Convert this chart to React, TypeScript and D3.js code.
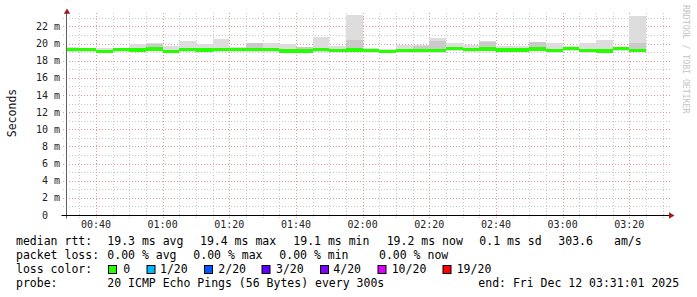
import React from 'react';
import * as d3 from 'd3';

// ---- data ----
const stepEnds = [
  "00:35", "00:40", "00:45", "00:50", "00:55", "01:00", "01:05", "01:10", "01:15", "01:20",
  "01:25", "01:30", "01:35", "01:40", "01:45", "01:50", "01:55", "02:00", "02:05", "02:10",
  "02:15", "02:20", "02:25", "02:30", "02:35", "02:40", "02:45", "02:50", "02:55", "03:00",
  "03:05", "03:10", "03:15", "03:20", "03:25",
];
const medianMs = [
  19.3, 19.3, 19.1, 19.3, 19.25, 19.35, 19.1, 19.3, 19.25, 19.3,
  19.3, 19.3, 19.3, 19.15, 19.15, 19.3, 19.2, 19.25, 19.2, 19.1,
  19.2, 19.2, 19.2, 19.4, 19.3, 19.35, 19.22, 19.22, 19.35, 19.2,
  19.42, 19.2, 19.15, 19.42, 19.2,
];
const smokeMaxMs = [
  19.6, 19.45, 19.5, 19.45, 20.0, 20.05, 19.75, 20.3, 20.0, 20.52,
  19.55, 20.1, 20.05, 20.0, 19.6, 20.75, 19.68, 23.35, 19.48, 19.4,
  19.8, 19.8, 20.64, 20.1, 19.82, 20.3, 19.7, 19.7, 20.17, 20.02,
  19.7, 20.1, 20.45, 19.55, 23.2,
];
const smokeMinMs = [
  19.05, 19.05, 18.95, 19.05, 19.05, 19.1, 18.95, 19.05, 19.05, 19.05,
  19.05, 19.05, 19.05, 18.95, 18.95, 19.0, 19.0, 19.0, 18.95, 18.9,
  18.9, 18.95, 18.95, 19.1, 19.0, 19.1, 19.0, 19.0, 19.1, 18.95,
  19.15, 18.95, 18.9, 19.15, 19.0,
];
const innerMaxMs = [
  19.4, 19.4, 19.25, 19.4, 19.4, 19.98, 19.3, 19.45, 19.4, 19.45,
  19.4, 20.05, 19.45, 19.3, 19.55, 19.45, 19.35, 20.4, 19.35, 19.25,
  19.35, 19.7, 20.28, 19.5, 19.45, 20.2, 19.35, 19.35, 20.15, 19.35,
  19.5, 19.35, 19.3, 19.5, 20.05,
];
const innerMinMs = [
  19.15, 19.15, 19.0, 19.15, 19.1, 19.2, 19.0, 19.15, 19.1, 19.15,
  19.15, 19.15, 19.15, 19.0, 19.0, 19.1, 19.05, 19.1, 19.05, 19.0,
  19.05, 19.05, 19.05, 19.25, 19.15, 19.2, 19.1, 19.1, 19.2, 19.05,
  19.3, 19.05, 19.0, 19.3, 19.05,
];
const yTickValues = [0, 2, 4, 6, 8, 10, 12, 14, 16, 18, 20, 22];
const xTickLabels = ["00:40", "01:00", "01:20", "01:40", "02:00", "02:20", "02:40", "03:00", "03:20"];
const lossLabels = ["0", "1/20", "2/20", "3/20", "4/20", "10/20", "19/20"];
const lossColors = ["#26ff00", "#00b8ff", "#0059ff", "#5e00ff", "#7e00ff", "#dd00ff", "#ff0000"];
const startTime = "00:31:01";
const endTime = "03:31:01";

// ---- helpers ----
const toMin = (s: string) => {
  const p = s.split(":").map(Number);
  return p[0] * 60 + p[1] + (p[2] || 0) / 60;
};

const W = 697;
const H = 297;
const X0 = 66;
const X1 = 666;
const Y0 = 215;
const YTOP = 15;

const mono = "'DejaVu Sans Mono', monospace";

export default function App() {
  const t0 = toMin(startTime);
  const t1 = toMin(endTime);
  const x = d3.scaleLinear().domain([t0, t1]).range([X0, X1]);
  const y = d3.scaleLinear().domain([0, 23.33]).range([Y0, YTOP]);

  const minorX = d3.range(Math.ceil(t0 / 5) * 5, t1, 5).filter((t) => t % 20 !== 0);
  const majorX = d3.range(Math.ceil(t0 / 20) * 20, t1, 20);
  const minorY = d3.range(1, 24, 2);
  const majorY = yTickValues.filter((v) => v > 0);

  const steps = stepEnds.map((s, i) => {
    const te = toMin(s);
    const ts = Math.max(t0, te - 5);
    return { i, xa: x(ts), xb: x(te) };
  });

  const legendFont = 11.5;
  const lineY = [245, 259, 273, 287];
  const boxX = [108.5, 147, 204.5, 262, 320.5, 378, 443];
  const labelX = [123.3, 160, 218.3, 276, 333.3, 391.7, 456.7];

  return (
    <svg width={W} height={H} style={{ position: 'absolute', left: 0, top: 0, background: '#fff' }}>
      <rect x={0} y={0} width={W} height={H} fill="#ffffff" />
      {/* minor grid */}
      <g stroke="#c8c8c8" strokeWidth={1} strokeDasharray="1,2">
        {minorX.map((t) => (
          <line key={'mx' + t} x1={Math.round(x(t)) + 0.5} x2={Math.round(x(t)) + 0.5} y1={13} y2={218} />
        ))}
        {minorY.map((v) => (
          <line key={'my' + v} x1={63} x2={670} y1={Math.round(y(v)) + 0.5} y2={Math.round(y(v)) + 0.5} />
        ))}
      </g>
      {/* major grid */}
      <g stroke="#e09a9a" strokeWidth={1} strokeDasharray="1,2">
        {majorX.map((t) => (
          <line key={'Mx' + t} x1={Math.round(x(t)) + 0.5} x2={Math.round(x(t)) + 0.5} y1={13} y2={218} />
        ))}
        {majorY.map((v) => (
          <line key={'My' + v} x1={63} x2={670} y1={Math.round(y(v)) + 0.5} y2={Math.round(y(v)) + 0.5} />
        ))}
      </g>
      {/* smoke outer */}
      <g shapeRendering="crispEdges">
        {steps.map((s) => (
          <rect key={'so' + s.i} x={s.xa} width={s.xb - s.xa} y={y(smokeMaxMs[s.i])}
            height={y(smokeMinMs[s.i]) - y(smokeMaxMs[s.i])} fill="#dddddd" />
        ))}
        {steps.map((s) => (
          <rect key={'si' + s.i} x={s.xa} width={s.xb - s.xa} y={y(innerMaxMs[s.i])}
            height={y(innerMinMs[s.i]) - y(innerMaxMs[s.i])} fill="#cacaca" />
        ))}
        {/* median band */}
        {steps.map((s) => (
          <rect key={'md' + s.i} x={s.xa} width={s.xb - s.xa} y={y(medianMs[s.i]) - 1.75}
            height={3.5} fill={lossColors[0]} />
        ))}
      </g>
      {/* axes */}
      <line x1={66.5} x2={66.5} y1={218.5} y2={12} stroke="#606060" strokeWidth={1} />
      <line x1={61.5} x2={669} y1={215.5} y2={215.5} stroke="#000" strokeWidth={1} />
      <path d="M67,8.5 L70.2,13.8 L63.8,13.8 Z" fill="#9b1c1c" />
      <path d="M674.5,215.5 L669,212.3 L669,218.7 Z" fill="#9b1c1c" />
      {/* y ticks */}
      <g fontFamily={mono} fontSize={10} fill="#222">
        {yTickValues.map((v) => (
          <text key={'yt' + v} x={v === 0 ? 48 : 60} y={y(v) + 3.6} textAnchor="end">
            {v === 0 ? '0' : `${v} m`}
          </text>
        ))}
        {xTickLabels.map((s) => (
          <text key={'xt' + s} x={x(toMin(s))} y={227.5} textAnchor="middle">{s}</text>
        ))}
      </g>
      <text x={15.5} y={113} transform="rotate(-90 15.5 113)" textAnchor="middle"
        fontFamily={mono} fontSize={11.5} fill="#111">Seconds</text>
      <text x={683} y={5} transform="rotate(90 683 5)" textAnchor="start"
        fontFamily={mono} fontSize={8.2} fill="#c4c4c4">RRDTOOL / TOBI OETIKER</text>
      {/* legend */}
      <g fontFamily={mono} fontSize={legendFont} fill="#000" style={{ whiteSpace: 'pre' }}>
        <text x={16} y={lineY[0]}>median rtt:</text>
        <text x={107.3} y={lineY[0]}>19.3 ms avg</text>
        <text x={200} y={lineY[0]}>19.4 ms max</text>
        <text x={293.3} y={lineY[0]}>19.1 ms min</text>
        <text x={386.7} y={lineY[0]}>19.2 ms now</text>
        <text x={479.3} y={lineY[0]}>0.1 ms sd</text>
        <text x={558.3} y={lineY[0]}>303.6</text>
        <text x={614} y={lineY[0]}>am/s</text>

        <text x={16} y={lineY[1]}>packet loss:</text>
        <text x={107.3} y={lineY[1]}>0.00 % avg</text>
        <text x={193.3} y={lineY[1]}>0.00 % max</text>
        <text x={279.3} y={lineY[1]}>0.00 % min</text>
        <text x={379} y={lineY[1]}>0.00 % now</text>

        <text x={16} y={lineY[2]}>loss color:</text>
        {lossLabels.map((l, i) => (
          <g key={'lc' + l}>
            <rect x={boxX[i]} y={265.5} width={8} height={8} fill={lossColors[i]} stroke="#000" strokeWidth={1} />
            <text x={labelX[i]} y={lineY[2]}>{l}</text>
          </g>
        ))}

        <text x={16} y={lineY[3]}>probe:</text>
        <text x={107.3} y={lineY[3]}>20 ICMP Echo Pings (56 Bytes) every 300s</text>
        <text x={478.3} y={lineY[3]}>end: Fri Dec 12 03:31:01 2025</text>
      </g>
    </svg>
  );
}
